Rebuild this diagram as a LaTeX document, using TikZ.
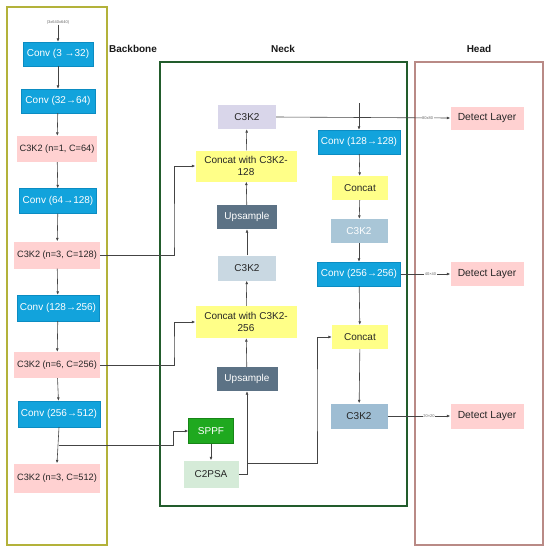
\documentclass[tikz,border=0pt]{standalone}
\usepackage{fontspec}
\setmainfont{Liberation Sans}
\usetikzlibrary{arrows.meta}
\definecolor{convblue}{HTML}{12A3DC}
\definecolor{convedge}{HTML}{0B8CC2}
\definecolor{pinkc}{HTML}{FFD1D1}
\definecolor{yellowc}{HTML}{FFFF88}
\definecolor{lavc}{HTML}{D9D6EA}
\definecolor{upc}{HTML}{5C7285}
\definecolor{greyblue}{HTML}{C9D8E2}
\definecolor{steelA}{HTML}{A9C6D7}
\definecolor{steelB}{HTML}{9EBDD3}
\definecolor{sppfc}{HTML}{1FA91F}
\definecolor{sppfe}{HTML}{178517}
\definecolor{c2psac}{HTML}{D5EBD8}
\definecolor{linec}{HTML}{444444}
\definecolor{bbframe}{HTML}{B3B23A}
\definecolor{neckframe}{HTML}{225C2C}
\definecolor{headframe}{HTML}{B98A86}
\begin{document}
\begin{tikzpicture}[x=1pt,y=-1pt,
  box/.style={inner sep=1pt,align=center,font=\fontsize{10}{11.5}\selectfont,text=black!85},
  conv/.style={box,fill=convblue,draw=convedge,line width=0.4pt,text=white},
  pinkb/.style={box,fill=pinkc,font=\fontsize{9.2}{11}\selectfont},
  yelb/.style={box,fill=yellowc},
  lavb/.style={box,fill=lavc},
  upb/.style={box,fill=upc,text=white},
  gbb/.style={box,fill=greyblue},
  stAb/.style={box,fill=steelA,text=white},
  stBb/.style={box,fill=steelB},
  sppfb/.style={box,fill=sppfc,draw=sppfe,line width=0.4pt,text=white},
  c2b/.style={box,fill=c2psac},
  detb/.style={box,fill=pinkc,font=\fontsize{10.3}{12}\selectfont},
  tiny/.style={inner sep=0.5pt,font=\fontsize{4}{5}\selectfont,text=black!60},
  heading/.style={font=\fontsize{10}{12}\selectfont\bfseries,text=black!90},
  link/.style={draw=linec,line width=0.6pt},
  arr/.style={link,-{Latex[length=3.4pt,width=2.8pt]}},
  sz/.style 2 args={minimum width=#1pt,minimum height=#2pt}
]
\useasboundingbox (0,0) rectangle (550,550);
% frames
\draw[bbframe,line width=1.5pt] (7,7) rectangle (107,545);
\draw[neckframe,line width=1.5pt] (160,62) rectangle (407,506);
\draw[headframe,line width=1.1pt] (415,62) rectangle (543,545);
\node[heading] (hb) at (133,49) {Backbone};
\node[heading] (hn) at (283,49) {Neck};
\node[heading] (hh) at (479,49) {Head};
% backbone
\node[tiny] (in) at (58,22) {(3x640x640)};
\node[conv,sz={70}{24}] (conv1) at (58,54) {Conv (3 →32)};
\node[conv,sz={74}{24}] (conv2) at (58,101) {Conv (32→64)};
\node[pinkb,sz={80}{26}] (c1) at (57,149) {C3K2 (n=1, C=64)};
\node[conv,sz={77}{25}] (conv3) at (58,201) {Conv (64→128)};
\node[pinkb,sz={86}{27}] (c2) at (57,255) {C3K2 (n=3, C=128)};
\node[conv,sz={82}{26}] (conv4) at (58,308) {Conv (128→256)};
\node[pinkb,sz={86}{26}] (c3) at (57,365) {C3K2 (n=6, C=256)};
\node[conv,sz={82}{26}] (conv5) at (59,414) {Conv (256→512)};
\node[pinkb,sz={86}{29}] (c4) at (57,478) {C3K2 (n=3, C=512)};
% neck left
\node[lavb,sz={58}{24}] (n1) at (247,117) {C3K2};
\node[yelb,sz={101}{31}] (cat128) at (246,166) {Concat with C3K2-\\128};
\node[upb,sz={60}{24}] (up1) at (247,217) {Upsample};
\node[gbb,sz={58}{25}] (n2) at (247,268) {C3K2};
\node[yelb,sz={101}{32}] (cat256) at (246,322) {Concat with C3K2-\\256};
\node[upb,sz={61}{24}] (up2) at (247,379) {Upsample};
\node[sppfb,sz={45}{25}] (sppf) at (211,431) {SPPF};
\node[c2b,sz={55}{27}] (c2psa) at (211,474) {C2PSA};
% neck right
\node[conv,sz={82}{24}] (conv128) at (359,142) {Conv (128→128)};
\node[yelb,sz={56}{24}] (catA) at (360,188) {Concat};
\node[stAb,sz={57}{24}] (n3) at (359,231) {C3K2};
\node[conv,sz={83}{24}] (conv256) at (359,274) {Conv (256→256)};
\node[yelb,sz={56}{24}] (catB) at (360,337) {Concat};
\node[stBb,sz={57}{25}] (n4) at (359,416) {C3K2};
% head
\node[detb,sz={73}{23}] (d1) at (487,118) {Detect Layer};
\node[detb,sz={73}{24}] (d2) at (487,274) {Detect Layer};
\node[detb,sz={73}{25}] (d3) at (487,416) {Detect Layer};
% backbone links
\draw[arr] (in) -- (conv1);
\draw[arr] (conv1) -- (conv2);
\draw[arr] (conv2) -- (c1);
\draw[arr] (c1) -- (conv3);
\draw[arr] (conv3) -- (c2);
\draw[arr] (c2) -- (conv4);
\draw[arr] (conv4) -- (c3);
\draw[arr] (c3) -- (conv5);
\draw[arr] (conv5.south) -- (c4.north);
\coordinate (j1) at (59,445);
\draw[arr] (j1) -- (173,445) |- (sppf.west);
% backbone to neck
\draw[arr] (c2.east) -| (174,240) |- (cat128.west);
\draw[arr] (c3.east) -| (174,350) |- (cat256.west);
% neck left chain
\draw[arr] (up2) -- (cat256);
\draw[arr] (cat256) -- (n2);
\draw[arr] (n2) -- (up1);
\draw[arr] (up1) -- (cat128);
\draw[arr] (cat128) -- (n1);
\draw[arr] (sppf) -- (c2psa);
\draw[arr] (c2psa.east) -| (up2.south);
\coordinate (j2) at (247,463);
\draw[arr] (j2) -| (317,400) |- (catB.west);
% neck right chain
\coordinate (top) at (359,103);
\draw[arr] (top) -- (conv128);
\draw[arr] (conv128) -- (catA);
\draw[arr] (catA) -- (n3);
\draw[arr] (n3) -- (conv256);
\draw[arr] (conv256) -- (catB);
\draw[arr] (catB) -- (n4);
% to head
\draw[arr] (n1.east) -- (d1.west) node[tiny,fill=white,pos=0.87] (l1) {80x80};
\draw[arr] (conv256.east) -- (d2.west) node[tiny,fill=white,pos=0.6] (l2) {40×40};
\draw[arr] (n4.east) -- (d3.west) node[tiny,fill=white,pos=0.66] (l3) {20×20};
\end{tikzpicture}
\end{document}
